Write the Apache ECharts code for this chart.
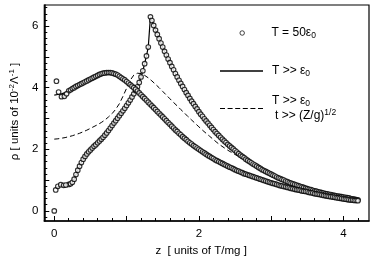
<!DOCTYPE html>
<html><head><meta charset="utf-8">
<script src="https://cdn.jsdelivr.net/npm/echarts@6/dist/echarts.min.js"></script>
<style>html,body{margin:0;padding:0;background:#fff}#c{width:374px;height:264px}</style>
</head><body><div id="c"></div>
<script>
// ---- data: [z, rho] ----
// curve peaking at 6.3 (T >> eps0, solid; also sampled by T = 50 eps0 circles)
const curveA = [
  [0.02,0.72],[0.05,0.78],[0.10,0.83],[0.15,0.84],
  [0.200,0.86],[0.225,0.88],[0.250,0.93],[0.275,1.03],[0.300,1.18],[0.325,1.32],[0.350,1.45],[0.375,1.57],
  [0.400,1.68],[0.425,1.77],[0.450,1.85],[0.475,1.92],[0.500,1.98],[0.525,2.04],[0.550,2.10],[0.575,2.15],
  [0.600,2.21],[0.625,2.27],[0.650,2.33],[0.675,2.39],[0.700,2.46],[0.725,2.53],[0.750,2.61],[0.775,2.69],
  [0.800,2.77],[0.825,2.85],[0.850,2.93],[0.875,3.01],[0.900,3.09],[0.925,3.17],[0.950,3.25],[0.975,3.33],
  [1.000,3.42],[1.025,3.51],[1.050,3.60],[1.075,3.70],[1.100,3.80],[1.125,3.91],[1.150,4.03],
  [1.175,4.17],[1.200,4.35],[1.225,4.55],[1.250,4.78],[1.275,5.03],[1.300,5.32],[1.330,6.30],
  [1.350,6.18],[1.375,6.02],[1.400,5.87],[1.425,5.73],[1.450,5.59],[1.475,5.45],[1.500,5.32],[1.525,5.18],
  [1.550,5.06],[1.575,4.93],[1.600,4.81],[1.625,4.69],[1.650,4.58],[1.675,4.46],[1.700,4.35],[1.725,4.24],
  [1.750,4.14],[1.775,4.04],[1.800,3.94],[1.825,3.84],[1.850,3.75],[1.875,3.65],[1.900,3.56],[1.925,3.48],
  [1.950,3.39],[1.975,3.31],[2.000,3.22],[2.025,3.14],[2.050,3.07],[2.075,2.99],[2.100,2.92],[2.125,2.85],
  [2.150,2.78],[2.175,2.71],[2.200,2.64],[2.225,2.57],[2.250,2.51],[2.275,2.45],[2.300,2.39],[2.325,2.33],
  [2.350,2.27],[2.375,2.22],[2.400,2.16],[2.425,2.11],[2.450,2.06],[2.475,2.01],[2.500,1.96],[2.525,1.91],
  [2.550,1.86],[2.575,1.81],[2.600,1.77],[2.625,1.73],[2.650,1.68],[2.675,1.64],[2.700,1.60],[2.725,1.56],
  [2.750,1.52],[2.775,1.49],[2.800,1.45],[2.825,1.41],[2.850,1.38],[2.875,1.34],[2.900,1.31],[2.925,1.28],
  [2.950,1.25],[2.975,1.22],[3.000,1.19],[3.025,1.16],[3.050,1.13],[3.075,1.10],[3.100,1.07],[3.125,1.05],
  [3.150,1.02],[3.175,1.00],[3.200,0.97],[3.225,0.95],[3.250,0.92],[3.275,0.90],[3.300,0.88],[3.325,0.86],
  [3.350,0.84],[3.375,0.82],[3.400,0.80],[3.425,0.78],[3.450,0.76],[3.475,0.74],[3.500,0.72],[3.525,0.70],
  [3.550,0.69],[3.575,0.67],[3.600,0.65],[3.625,0.64],[3.650,0.62],[3.675,0.61],[3.700,0.59],[3.725,0.58],
  [3.750,0.56],[3.775,0.55],[3.800,0.54],[3.825,0.53],[3.850,0.51],[3.875,0.50],[3.900,0.49],[3.925,0.48],
  [3.950,0.47],[3.975,0.46],[4.000,0.45],[4.025,0.44],[4.050,0.43],[4.075,0.42],[4.100,0.40],[4.125,0.39],
  [4.150,0.38],[4.175,0.37],[4.200,0.36]
];
// curve peaking at 4.5 near z = 0.75
const curveB = [
  [0.000,3.76],[0.025,3.77],[0.050,3.78],[0.075,3.79],[0.100,3.80],[0.125,3.82],[0.150,3.84],[0.175,3.87],
  [0.200,3.90],[0.225,3.93],[0.250,3.97],[0.275,4.00],[0.300,4.04],[0.325,4.07],[0.350,4.10],[0.375,4.13],
  [0.400,4.16],[0.425,4.19],[0.450,4.22],[0.475,4.25],[0.500,4.28],[0.525,4.31],[0.550,4.34],[0.575,4.37],
  [0.600,4.40],[0.625,4.43],[0.650,4.45],[0.675,4.47],[0.700,4.48],[0.725,4.49],[0.750,4.49],[0.775,4.49],
  [0.800,4.48],[0.825,4.46],[0.850,4.44],[0.875,4.41],[0.900,4.37],[0.925,4.33],[0.950,4.29],[0.975,4.25],
  [1.000,4.20],[1.025,4.15],[1.050,4.10],[1.075,4.05],[1.100,4.00],[1.125,3.95],[1.150,3.89],[1.175,3.83],
  [1.200,3.77],[1.225,3.71],[1.250,3.65],[1.275,3.59],[1.300,3.53],[1.325,3.47],[1.350,3.41],[1.375,3.35],
  [1.400,3.29],[1.425,3.23],[1.450,3.17],[1.475,3.11],[1.500,3.05],[1.525,2.99],[1.550,2.93],[1.575,2.87],
  [1.600,2.81],[1.625,2.75],[1.650,2.69],[1.675,2.63],[1.700,2.58],[1.725,2.52],[1.750,2.47],[1.775,2.41],
  [1.800,2.36],[1.825,2.31],[1.850,2.26],[1.875,2.21],[1.900,2.17],[1.925,2.12],[1.950,2.08],[1.975,2.04],
  [2.000,2.00],[2.025,1.96],[2.050,1.92],[2.075,1.88],[2.100,1.84],[2.125,1.80],[2.150,1.77],[2.175,1.73],
  [2.200,1.70],[2.225,1.66],[2.250,1.63],[2.275,1.60],[2.300,1.57],[2.325,1.54],[2.350,1.51],[2.375,1.48],
  [2.400,1.45],[2.425,1.42],[2.450,1.40],[2.475,1.37],[2.500,1.34],[2.525,1.31],[2.550,1.29],[2.575,1.26],
  [2.600,1.24],[2.625,1.21],[2.650,1.19],[2.675,1.17],[2.700,1.15],[2.725,1.13],[2.750,1.11],[2.775,1.09],
  [2.800,1.07],[2.825,1.05],[2.850,1.03],[2.875,1.01],[2.900,0.99],[2.925,0.97],[2.950,0.95],[2.975,0.93],
  [3.000,0.91],[3.025,0.89],[3.050,0.88],[3.075,0.86],[3.100,0.84],[3.125,0.82],[3.150,0.81],[3.175,0.79],
  [3.200,0.78],[3.225,0.76],[3.250,0.75],[3.275,0.73],[3.300,0.72],[3.325,0.70],[3.350,0.69],[3.375,0.68],
  [3.400,0.67],[3.425,0.65],[3.450,0.64],[3.475,0.63],[3.500,0.62],[3.525,0.60],[3.550,0.59],[3.575,0.58],
  [3.600,0.56],[3.625,0.55],[3.650,0.54],[3.675,0.53],[3.700,0.52],[3.725,0.50],[3.750,0.49],[3.775,0.48],
  [3.800,0.47],[3.825,0.46],[3.850,0.45],[3.875,0.44],[3.900,0.43],[3.925,0.42],[3.950,0.41],[3.975,0.40],
  [4.000,0.39],[4.025,0.38],[4.050,0.37],[4.075,0.36],[4.100,0.35],[4.125,0.35],[4.150,0.34],[4.175,0.34],
  [4.200,0.33]
];
// dashed asymptotic curve (T >> eps0, t >> (Z/g)^1/2)
const curveDashed = [
  [0.00,2.33],[0.05,2.34],[0.10,2.36],[0.15,2.38],[0.20,2.41],[0.25,2.44],[0.30,2.48],[0.35,2.52],[0.40,2.57],
  [0.45,2.62],[0.50,2.68],[0.55,2.74],[0.60,2.80],[0.65,2.87],[0.70,2.95],[0.75,3.05],[0.80,3.16],[0.85,3.30],
  [0.90,3.48],[0.95,3.72],[1.00,3.98],[1.05,4.24],[1.10,4.41],[1.15,4.47],[1.20,4.46],[1.25,4.40],[1.30,4.32],
  [1.35,4.22],[1.40,4.11],[1.45,4.00],[1.50,3.88],[1.55,3.76],[1.60,3.64],[1.65,3.52],[1.70,3.41],[1.75,3.29],
  [1.80,3.18],[1.85,3.06],[1.90,2.95],[1.95,2.84],[2.00,2.73],[2.05,2.62],[2.10,2.52],[2.15,2.42],[2.20,2.32],
  [2.25,2.22],[2.30,2.13],[2.35,2.05],[2.40,1.97],[2.45,1.90],[2.50,1.83],[2.55,1.77],[2.60,1.71],[2.65,1.66],
  [2.70,1.60],[2.75,1.52]
];
// scattered simulation circles near z = 0
const simStart = [[0.00,0.00],[0.02,0.68],[0.05,0.80],[0.09,0.85],[0.13,0.83],[0.16,0.84],
                  [0.03,4.21],[0.06,3.86],[0.10,3.71],[0.14,3.72],[0.17,3.80]];

const xMajorTicks = [0,1,2,3,4];
const xTickLabels = [0,2,4];
const xMinorTicks = [0.2,0.4,0.6,0.8,1.2,1.4,1.6,1.8,2.2,2.4,2.6,2.8,3.2,3.4,3.6,3.8,4.2];
const yMajorTicks = [0,1,2,3,4,5,6];
const yTickLabels = [0,2,4,6];
const yMinorTicks = [-0.2,0.2,0.4,0.6,0.8,1.2,1.4,1.6,1.8,2.2,2.4,2.6,2.8,3.2,3.4,3.6,3.8,4.2,4.4,4.6,4.8,5.2,5.4,5.6,5.8,6.2,6.4,6.6];

const legendNames = ['T = 50ε0', 'T >> ε0', 'T >> ε0, t >> (Z/g)^1/2'];
const legendRich = {
  'T = 50ε0': '{g1|}{t|T = 50ε}{sub|0}',
  'T >> ε0': '{g|}{t|T >> ε}{sub|0}',
  'T >> ε0, t >> (Z/g)^1/2': '{g|}{t|T >> ε}{sub|0}\n{g2|}{t|t >> (Z/g)}{sup|1/2}'
};
// ---------------------------------------

const FONT = "'Liberation Sans', Arial, Helvetica, sans-serif";
const chart = echarts.init(document.getElementById('c'), null, {renderer: 'canvas'});
const X_MIN = -0.138, X_MAX = 4.353, Y_MIN = -0.328, Y_MAX = 6.685;

const richTokens = {
  t: {fontFamily: FONT, fontSize: 12, color: '#000', verticalAlign: 'middle', lineHeight: 15},
  sub: {fontFamily: FONT, fontSize: 8.5, color: '#000', verticalAlign: 'middle', padding: [6, 0, 0, 0]},
  sup: {fontFamily: FONT, fontSize: 8.5, color: '#000', verticalAlign: 'middle', padding: [0, 0, 6, 0]},
  g: {width: 4},
  g1: {width: 22},
  g2: {width: 7}
};
function legendCfg(name, icon, itemStyle, left, top, w, h) {
  return {
    data: [{name: name, icon: icon, itemStyle: itemStyle}],
    left: left, top: top, itemWidth: w, itemHeight: h, padding: 0,
    selectedMode: false, orient: 'vertical',
    formatter: n => legendRich[n],
    textStyle: {fontFamily: FONT, fontSize: 12, color: '#000', rich: richTokens}
  };
}
const dashIcon = 'path://M0,0H5V1H0Z M7.6,0H12.6V1H7.6Z M15.2,0H20.2V1H15.2Z M22.8,0H27.8V1H22.8Z M30.4,0H35.4V1H30.4Z M38,0H43V1H38Z';
const axisLabelStyle = {fontFamily: FONT, fontSize: 11.5, color: '#000'};
const circleStyle = {color: '#fff', borderColor: '#000', borderWidth: 1.15};

chart.setOption({
  animation: false,
  backgroundColor: '#fff',
  grid: {left: 43, top: 5, width: 326, height: 216, show: true, borderColor: '#000', borderWidth: 1.2, backgroundColor: 'transparent'},
  legend: [
    legendCfg(legendNames[0], 'circle', {color: '#fff', borderColor: '#000', borderWidth: 0.9}, 239.5, 27, 4.5, 4.5),
    legendCfg(legendNames[1], 'rect', {color: '#000', borderWidth: 0}, 220, 65, 43, 1.3),
    legendCfg(legendNames[2], dashIcon, {color: '#000', borderWidth: 0}, 220, 95, 43, 1)
  ],
  xAxis: [
    {type: 'value', gridIndex: 0, position: 'bottom', min: X_MIN, max: X_MAX,
     axisLine: {show: true, onZero: false, lineStyle: {color: '#000', width: 1.5}},
     axisTick: {show: true, inside: true, length: 5, customValues: xMajorTicks, lineStyle: {color: '#000', width: 1}},
     axisLabel: {show: true, customValues: xTickLabels, margin: 7, ...axisLabelStyle},
     splitLine: {show: false},
     name: 'z  [ units of T/mg ]', nameLocation: 'middle', nameGap: 18,
     nameTextStyle: {fontFamily: FONT, fontSize: 11.5, color: '#000', padding: [0, 11, 0, 0]}},
    {type: 'value', gridIndex: 0, position: 'bottom', min: X_MIN, max: X_MAX,
     axisLine: {show: false, onZero: false},
     axisTick: {show: true, inside: true, length: 3, customValues: xMinorTicks, lineStyle: {color: '#000', width: 1}},
     axisLabel: {show: false}, splitLine: {show: false}}
  ],
  yAxis: [
    {type: 'value', gridIndex: 0, position: 'left', min: Y_MIN, max: Y_MAX,
     axisLine: {show: true, onZero: false, lineStyle: {color: '#000', width: 1.5}},
     axisTick: {show: true, inside: true, length: 5, customValues: yMajorTicks, lineStyle: {color: '#000', width: 1}},
     axisLabel: {show: true, customValues: yTickLabels, margin: 6, ...axisLabelStyle},
     splitLine: {show: false},
     name: '{t|ρ [ units of 10}{sup|-2}{t|Λ}{sup|-1}{t| ]}', nameLocation: 'middle', nameGap: 19, nameRotate: 90,
     nameTextStyle: {fontFamily: FONT, fontSize: 11.5, color: '#000', padding: [0, 0, 0, 3],
       rich: {t: {fontFamily: FONT, fontSize: 11.5, color: '#000', verticalAlign: 'middle'},
              sup: {fontFamily: FONT, fontSize: 8, color: '#000', verticalAlign: 'middle', padding: [0, 0, 6, 0]}}}},
    {type: 'value', gridIndex: 0, position: 'left', min: Y_MIN, max: Y_MAX,
     axisLine: {show: false, onZero: false},
     axisTick: {show: true, inside: true, length: 3, customValues: yMinorTicks, lineStyle: {color: '#000', width: 1}},
     axisLabel: {show: false}, splitLine: {show: false}}
  ],
  series: [
    {name: legendNames[1], type: 'line', data: curveA, symbol: 'none', color: '#000',
     lineStyle: {color: '#000', width: 1.2}, z: 2, silent: true},
    {name: legendNames[1], type: 'line', data: curveB, symbol: 'none', color: '#000',
     lineStyle: {color: '#000', width: 1.2}, z: 2, silent: true},
    {name: legendNames[2], type: 'line', data: curveDashed, symbol: 'none', color: '#000',
     lineStyle: {color: '#000', width: 1, type: [5, 3]}, z: 2, silent: true},
    {name: legendNames[0], type: 'scatter', data: curveA.slice(4), symbol: 'circle', symbolSize: 4.6,
     itemStyle: circleStyle, z: 3, silent: true},
    {name: legendNames[0], type: 'scatter', data: curveB.slice(8), symbol: 'circle', symbolSize: 4.6,
     itemStyle: circleStyle, z: 3, silent: true},
    {name: legendNames[0], type: 'scatter', data: simStart, symbol: 'circle', symbolSize: 4.6,
     itemStyle: circleStyle, z: 3, silent: true}
  ]
});
</script></body></html>
